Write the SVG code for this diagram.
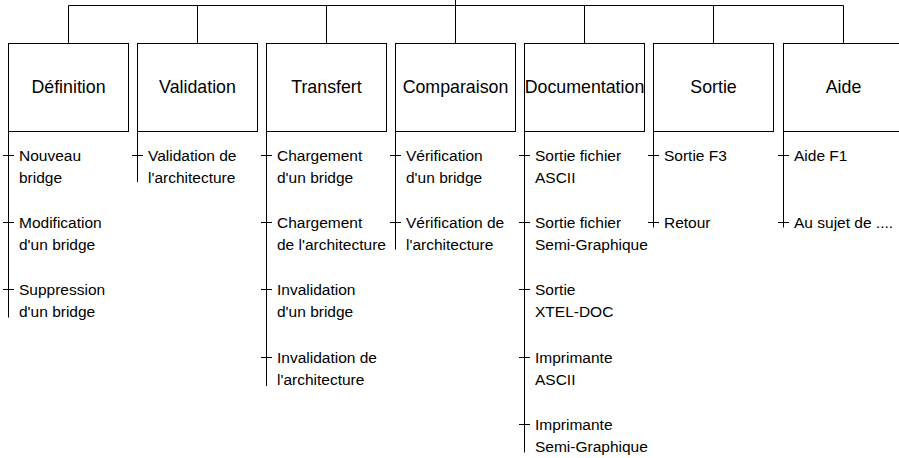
<svg xmlns="http://www.w3.org/2000/svg" width="899" height="458" viewBox="0 0 899 458">
<style>
.box{fill:#fff;stroke:#000;stroke-width:1}
.ln{fill:none;stroke:#000;stroke-width:1}
.t{font-family:"Liberation Sans",Arial,sans-serif;font-size:17.8px;fill:#000;text-anchor:middle}
.i{font-family:"Liberation Sans",Arial,sans-serif;font-size:15.5px;fill:#000}
</style>
<rect width="899" height="458" fill="#fff"/>
<g id="connectors" class="ln">
<path d="M455.5 0V5.5M68.5 5.5H843.5M68.5 5.5V43.5M197.5 5.5V43.5M326.5 5.5V43.5M455.5 5.5V43.5M584.5 5.5V43.5M713.5 5.5V43.5M843.5 5.5V43.5"/>
<path d="M8.5 131.5V317.5M3 155.5H14M3 222.5H14M3 289.5H14"/>
<path d="M137.5 131.5V182M132 155.5H143"/>
<path d="M266.5 131.5V386M261 155.5H272M261 222.5H272M261 289.5H272M261 357.5H272"/>
<path d="M395.5 131.5V249.5M390 155.5H401M390 222.5H401"/>
<path d="M524.5 131.5V452.5M519 155.5H530M519 222.5H530M519 289.5H530M519 357.5H530M519 424.5H530"/>
<path d="M653.5 131.5V227.5M648 155.5H659M648 222.5H659"/>
<path d="M783.5 131.5V227.5M778 155.5H789M778 222.5H789"/>
</g>
<g id="n-definition"><rect class="box" x="8.5" y="43.5" width="120" height="88"/><text class="t" x="68.5" y="93">Définition</text></g>
<g id="n-validation"><rect class="box" x="137.5" y="43.5" width="120" height="88"/><text class="t" x="197.5" y="93">Validation</text></g>
<g id="n-transfert"><rect class="box" x="266.5" y="43.5" width="120" height="88"/><text class="t" x="326.5" y="93">Transfert</text></g>
<g id="n-comparaison"><rect class="box" x="395.5" y="43.5" width="120" height="88"/><text class="t" x="455.5" y="93">Comparaison</text></g>
<g id="n-documentation"><rect class="box" x="524.5" y="43.5" width="120" height="88"/><text class="t" x="584.5" y="93">Documentation</text></g>
<g id="n-sortie"><rect class="box" x="653.5" y="43.5" width="120" height="88"/><text class="t" x="713.5" y="93">Sortie</text></g>
<g id="n-aide"><rect class="box" x="783.5" y="43.5" width="120" height="88"/><text class="t" x="843.5" y="93">Aide</text></g>

<g id="i-nouveau"><text class="i" x="19" y="161">Nouveau</text><text class="i" x="19" y="183">bridge</text></g>
<g id="i-modification"><text class="i" x="19" y="228">Modification</text><text class="i" x="19" y="250">d'un bridge</text></g>
<g id="i-suppression"><text class="i" x="19" y="295">Suppression</text><text class="i" x="19" y="317">d'un bridge</text></g>

<g id="i-validation-archi"><text class="i" x="148" y="161">Validation de</text><text class="i" x="148" y="183">l'architecture</text></g>

<g id="i-chargement-bridge"><text class="i" x="277" y="161">Chargement</text><text class="i" x="277" y="183">d'un bridge</text></g>
<g id="i-chargement-archi"><text class="i" x="277" y="228">Chargement</text><text class="i" x="277" y="250">de l'architecture</text></g>
<g id="i-invalidation-bridge"><text class="i" x="277" y="295">Invalidation</text><text class="i" x="277" y="317">d'un bridge</text></g>
<g id="i-invalidation-archi"><text class="i" x="277" y="363">Invalidation de</text><text class="i" x="277" y="385">l'architecture</text></g>

<g id="i-verification-bridge"><text class="i" x="406" y="161">Vérification</text><text class="i" x="406" y="183">d'un bridge</text></g>
<g id="i-verification-archi"><text class="i" x="406" y="228">Vérification de</text><text class="i" x="406" y="250">l'architecture</text></g>

<g id="i-sortie-ascii"><text class="i" x="535" y="161">Sortie fichier</text><text class="i" x="535" y="183">ASCII</text></g>
<g id="i-sortie-semi"><text class="i" x="535" y="228">Sortie fichier</text><text class="i" x="535" y="250">Semi-Graphique</text></g>
<g id="i-sortie-xtel"><text class="i" x="535" y="295">Sortie</text><text class="i" x="535" y="317">XTEL-DOC</text></g>
<g id="i-imprimante-ascii"><text class="i" x="535" y="363">Imprimante</text><text class="i" x="535" y="385">ASCII</text></g>
<g id="i-imprimante-semi"><text class="i" x="535" y="430">Imprimante</text><text class="i" x="535" y="452">Semi-Graphique</text></g>

<g id="i-sortie-f3"><text class="i" x="664" y="161">Sortie F3</text></g>
<g id="i-retour"><text class="i" x="664" y="228">Retour</text></g>

<g id="i-aide-f1"><text class="i" x="794" y="161">Aide F1</text></g>
<g id="i-au-sujet"><text class="i" x="794" y="228">Au sujet de ....</text></g>
</svg>
